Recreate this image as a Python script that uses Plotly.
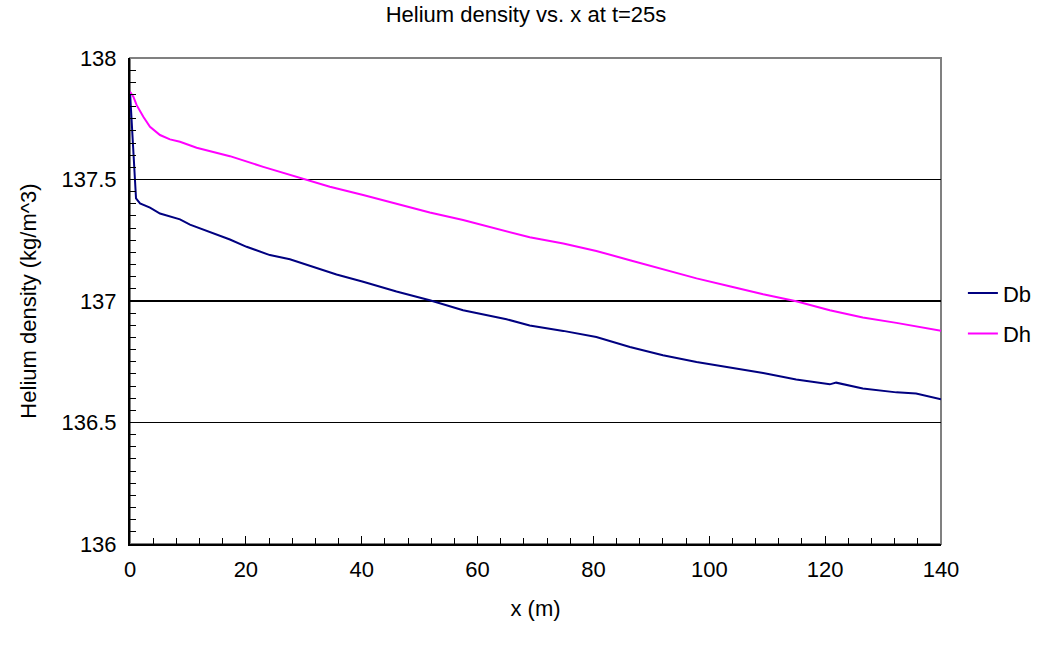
import plotly.graph_objects as go

# ---- data ----
x_db = [0, 1.04, 1.73, 3.45, 5.18, 8.63, 10.35, 14.38, 17.25, 20.13, 24.15, 27.6, 31.63,
        35.65, 40.25, 46.0, 51.75, 57.5, 65.0, 69.0, 74.8, 80.5, 86.3, 92.0, 97.8,
        103.5, 109.3, 115.0, 120.8, 121.9, 126.5, 132.3, 135.7, 140.0]
db = [137.861, 137.422, 137.402, 137.384, 137.360, 137.336, 137.314, 137.278, 137.253,
      137.223, 137.189, 137.172, 137.140, 137.109, 137.079, 137.039, 137.003, 136.962,
      136.925, 136.899, 136.877, 136.852, 136.811, 136.777, 136.749, 136.726, 136.704,
      136.677, 136.657, 136.664, 136.640, 136.624, 136.619, 136.596]

x_dh = [0, 0.58, 1.15, 2.3, 3.45, 5.18, 6.9, 8.63, 11.5, 17.25, 23.0, 28.75, 34.5, 40.25,
        46.0, 51.75, 57.5, 63.25, 69.0, 74.8, 80.5, 86.3, 92.0, 97.8, 103.5, 109.3,
        115.0, 120.8, 126.5, 132.3, 140.0]
dh = [137.861, 137.841, 137.806, 137.758, 137.717, 137.683, 137.665, 137.655, 137.631,
      137.596, 137.552, 137.511, 137.470, 137.436, 137.399, 137.364, 137.333, 137.296,
      137.262, 137.237, 137.206, 137.168, 137.130, 137.093, 137.061, 137.028, 136.999,
      136.962, 136.932, 136.910, 136.877]

series_names = ["Db", "Dh"]
series_colors = ["#000080", "#FF00FF"]
title_text = "Helium density vs. x at t=25s"
x_title = "x (m)"
y_title = "Helium density (kg/m^3)"
x_range = [0, 140]
y_range = [136, 138]
x_ticks = [0, 20, 40, 60, 80, 100, 120, 140]
y_ticks = [136, 136.5, 137, 137.5, 138]
y_tick_labels = ["136", "136.5", "137", "137.5", "138"]
emphasis_level = 137

FONT = "Liberation Sans, Arial, sans-serif"
FS = 22

fig = go.Figure()
fig.add_trace(go.Scatter(x=x_db, y=db, mode="lines", name=series_names[0],
                         line=dict(color=series_colors[0], width=2), legendgroup="a"))
fig.add_trace(go.Scatter(x=x_dh, y=dh, mode="lines", name=series_names[1],
                         line=dict(color=series_colors[1], width=2), legendgroup="b"))

# plot-area border (gray top / right)
fig.add_shape(type="rect", xref="paper", yref="paper", x0=0, x1=1, y0=0, y1=1,
              line=dict(color="#808080", width=2), layer="below")
# heavier horizontal grid line
fig.add_shape(type="line", xref="paper", yref="y", x0=0, x1=1,
              y0=emphasis_level, y1=emphasis_level,
              line=dict(color="black", width=2), layer="below")

fig.update_layout(
    width=1052, height=645,
    margin=dict(l=130, r=111, t=58, b=101),
    paper_bgcolor="white", plot_bgcolor="white",
    font=dict(family=FONT, size=FS, color="black"),
    title=dict(text=title_text, x=0.5, xref="container", xanchor="center",
               y=1 - 14 / 645, yref="container", yanchor="middle",
               font=dict(family=FONT, size=FS, color="black")),
    showlegend=True,
    legend=dict(x=1.027, xanchor="left", y=0.474, yanchor="middle",
                font=dict(family=FONT, size=FS, color="black"),
                tracegroupgap=9, bgcolor="rgba(0,0,0,0)"),
    xaxis=dict(range=x_range, tickmode="array", tickvals=x_ticks,
               ticks="inside", ticklen=8, tickwidth=1, tickcolor="black",
               showline=True, linecolor="black", linewidth=2, showgrid=False,
               zeroline=False, tickfont=dict(size=FS), ticklabelstandoff=5,
               minor=dict(dtick=4, ticks="inside", ticklen=6, tickcolor="black", showgrid=False),
               title=dict(text=x_title, font=dict(size=FS), standoff=19)),
    yaxis=dict(range=y_range, tickmode="array", tickvals=y_ticks, ticktext=y_tick_labels,
               ticks="inside", ticklen=6, tickwidth=1, tickcolor="black",
               showline=True, linecolor="black", linewidth=2,
               showgrid=True, gridcolor="black", gridwidth=1,
               zeroline=False, tickfont=dict(size=FS), ticklabelstandoff=7,
               minor=dict(dtick=0.05, tick0=136, ticks="inside", ticklen=6,
                          tickcolor="black", showgrid=False),
               title=dict(text=y_title, font=dict(size=FS), standoff=19)),
)

fig.write_html("out.html")
